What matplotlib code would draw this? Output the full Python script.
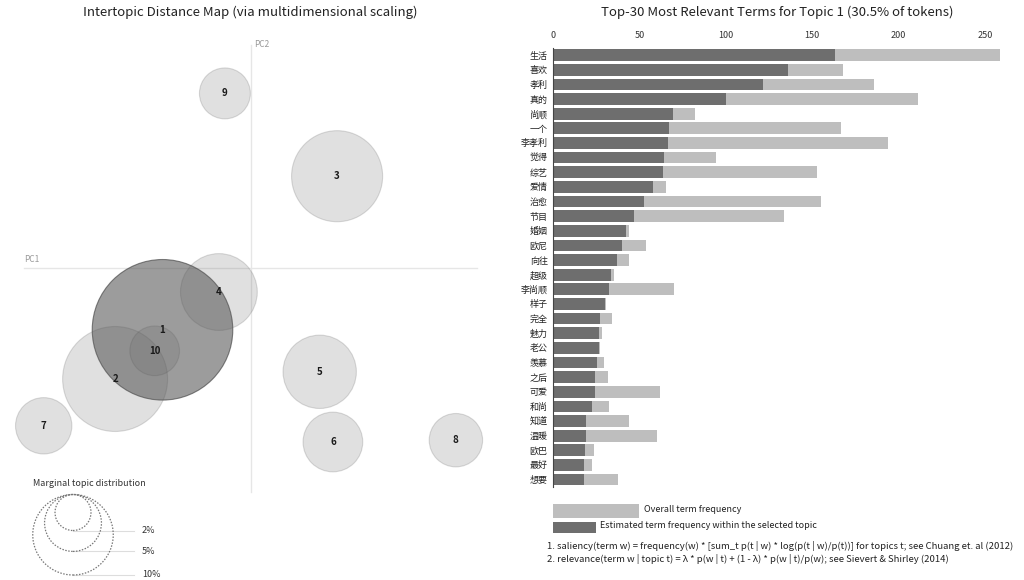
import numpy as np
import matplotlib
matplotlib.use('Agg')
import matplotlib.pyplot as plt
from matplotlib.patches import Circle, Rectangle

plt.rcParams['font.family'] = ['Noto Sans CJK SC', 'DejaVu Sans']

# ---- data: intertopic map ----
topic_ids = [1, 2, 3, 4, 5, 6, 7, 8, 9, 10]
topic_pct = [30.5, 17.0, 12.8, 9.1, 8.3, 5.5, 4.9, 4.4, 4.0, 3.8]
pc1 = [-0.147, -0.226, 0.144, -0.053, 0.115, 0.137, -0.345, 0.342, -0.043, -0.160]
pc2 = [-0.103, -0.185, 0.153, -0.040, -0.173, -0.290, -0.263, -0.287, 0.291, -0.138]
legend_pct = [2, 5, 10]

# ---- data: top-30 terms for topic 1 ----
terms = ['生活', '喜欢', '孝利', '真的', '尚顺', '一个', '李孝利', '觉得', '综艺', '爱情',
         '治愈', '节目', '婚姻', '欧尼', '向往', '超级', '李尚顺', '样子', '完全', '魅力',
         '老公', '羡慕', '之后', '可爱', '和尚', '知道', '温暖', '欧巴', '最好', '想要']
overall = [258.7, 168, 186, 211.5, 82, 166.5, 194, 94.5, 153, 65,
           155, 133.5, 44, 53.5, 44, 35.3, 70, 30.6, 34, 28.4,
           27, 29.6, 31.5, 61.7, 32.4, 43.8, 60, 23.7, 22.6, 37.4]
estimated = [163, 135.8, 121.2, 100, 69.6, 67.1, 66.2, 64.3, 63.3, 57.5,
             52.8, 46.9, 41.9, 39.9, 36.7, 33.4, 32.3, 30.0, 26.9, 26.7,
             26.3, 25.2, 24.2, 24.2, 22.6, 18.9, 18.9, 18.4, 17.9, 17.9]

W, H = 1024, 580
fig = plt.figure(figsize=(W / 100, H / 100), dpi=100)


def px_axes(x0, y0, x1, y1):
    # axes placed by pixel box (top-left origin)
    return fig.add_axes([x0 / W, 1 - y1 / H, (x1 - x0) / W, (y1 - y0) / H])


# ================= left panel =================
scale = 600.0          # pixels per PC unit
ox, oy = 250.7, 268.0  # pixel position of PC origin
r2 = 18.0              # pixel radius of a 2% topic
axl = px_axes(0, 30, 500, 580)
axl.set_xlim((0 - ox) / scale, (500 - ox) / scale)
axl.set_ylim((oy - 580) / scale, (oy - 30) / scale)
axl.set_aspect('equal')
axl.axis('off')


def to_data(px, py):
    return (px - ox) / scale, (oy - py) / scale


def radius(p):
    return r2 * np.sqrt(p / 2.0) / scale


# PC axes lines
x_a, _ = to_data(24, 0)
x_b, _ = to_data(477, 0)
axl.plot([x_a, x_b], [0, 0], color='#e6e6e6', lw=1, zorder=0)
_, y_a = to_data(0, 45)
_, y_b = to_data(0, 492)
axl.plot([0, 0], [y_a, y_b], color='#e6e6e6', lw=1, zorder=0)
axl.text(*to_data(24, 262), 'PC1', fontsize=6, color='#999999', ha='left', va='baseline')
axl.text(*to_data(254, 47), 'PC2', fontsize=6, color='#999999', ha='left', va='baseline')

for i, t in enumerate(topic_ids):
    r = radius(topic_pct[i])
    if t == 1:
        c = Circle((pc1[i], pc2[i]), r, facecolor='#4c4c4c', alpha=0.55,
                   edgecolor='#2a2a2a', lw=0.8, zorder=1)
    else:
        c = Circle((pc1[i], pc2[i]), r, facecolor='#646464', alpha=0.2,
                   edgecolor='#555555', lw=0.8, zorder=2)
    axl.add_patch(c)
    axl.text(pc1[i], pc2[i], str(t), ha='center', va='center', fontsize=7,
             fontweight='bold', color='#1a1a1a', zorder=5)

# marginal topic distribution legend
axl.text(*to_data(33, 486), 'Marginal topic distribution', fontsize=6.5,
         color='#333333', ha='left', va='baseline')
top_y = 494.5
cx = 73
for p in legend_pct:
    rp = r2 * np.sqrt(p / 2.0)
    cxd, cyd = to_data(cx, top_y + rp)
    axl.add_patch(Circle((cxd, cyd), rp / scale, fill=False, edgecolor='#777777',
                         lw=0.9, linestyle=(0, (1.2, 1.2)), zorder=3))
    bx, by = to_data(cx, top_y + 2 * rp)
    ex, _ = to_data(134, 0)
    axl.plot([bx, ex], [by, by], color='#dddddd', lw=0.8, zorder=2)
    axl.text(*to_data(142, top_y + 2 * rp), f'{p}%', fontsize=6.5, color='#333333',
             ha='left', va='center')

fig.text(250 / W, 1 - 12 / H, 'Intertopic Distance Map (via multidimensional scaling)',
         ha='center', va='center', fontsize=9.5, color='#222222')

# ================= right panel =================
axr = px_axes(553.3, 47.8, 1000, 486.9)
y = np.arange(len(terms))
axr.barh(y, overall, height=0.8, color='#bebebe', zorder=1)
axr.barh(y, estimated, height=0.8, color='#6e6e6e', zorder=2)
axr.set_xlim(0, max(overall))
axr.set_ylim(len(terms) - 0.5, -0.5)
axr.set_yticks(y)
axr.set_yticklabels(terms, fontsize=6.5, color='#222222')
axr.set_xticks([0, 50, 100, 150, 200, 250])
axr.xaxis.tick_top()
axr.tick_params(axis='x', length=0, pad=5.5, labelsize=6.5, labelcolor='#333333')
axr.tick_params(axis='y', length=0, pad=4)
for s in ['top', 'right', 'bottom']:
    axr.spines[s].set_visible(False)
axr.spines['left'].set_color('#444444')
axr.spines['left'].set_linewidth(0.8)

fig.text(777 / W, 1 - 12 / H, 'Top-30 Most Relevant Terms for Topic 1 (30.5% of tokens)',
         ha='center', va='center', fontsize=9.5, color='#222222')

# legend swatches
fig.patches.append(Rectangle((553.3 / W, 1 - 518 / H), 85.7 / W, 14 / H,
                             transform=fig.transFigure, facecolor='#bebebe', edgecolor='none'))
fig.patches.append(Rectangle((553.3 / W, 1 - 532.5 / H), 42.4 / W, 10.5 / H,
                             transform=fig.transFigure, facecolor='#6e6e6e', edgecolor='none'))
fig.text(644 / W, 1 - 510 / H, 'Overall term frequency', fontsize=6.5, color='#222222',
         ha='left', va='center')
fig.text(600 / W, 1 - 526 / H, 'Estimated term frequency within the selected topic',
         fontsize=6.5, color='#222222', ha='left', va='center')
fig.text(547 / W, 1 - 546 / H,
         '1. saliency(term w) = frequency(w) * [sum_t p(t | w) * log(p(t | w)/p(t))] for topics t; see Chuang et. al (2012)',
         fontsize=6.85, color='#222222', ha='left', va='center')
fig.text(547 / W, 1 - 559.5 / H,
         '2. relevance(term w | topic t) = \u03bb * p(w | t) + (1 - \u03bb) * p(w | t)/p(w); see Sievert & Shirley (2014)',
         fontsize=6.85, color='#222222', ha='left', va='center')

fig.savefig('out.png', dpi=100, facecolor='white')
